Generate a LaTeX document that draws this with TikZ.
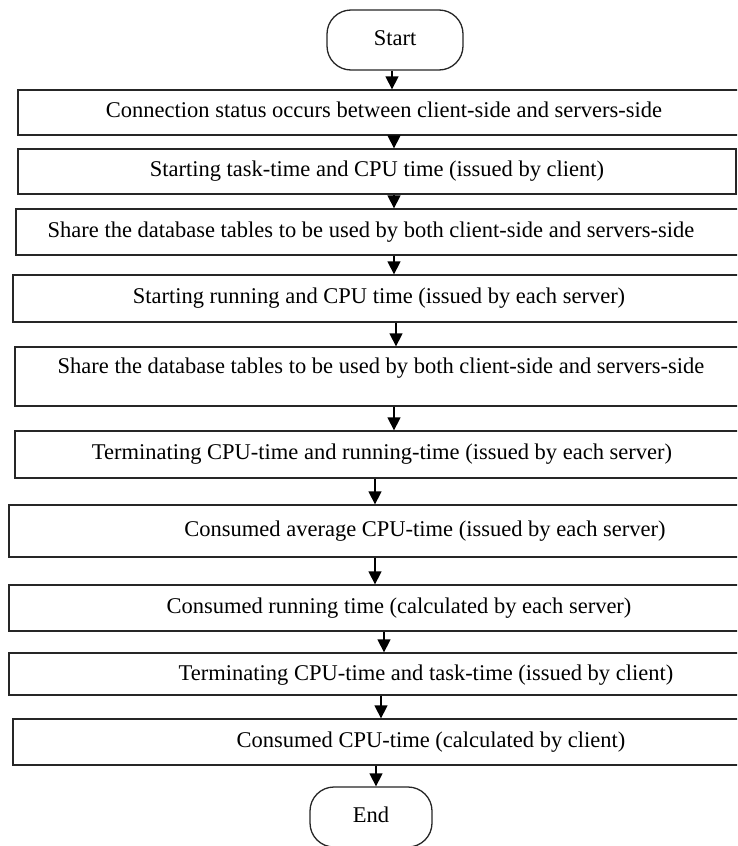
\documentclass[tikz,border=0pt]{standalone}
\usepackage{fontspec}
\setmainfont{Liberation Serif}
\usetikzlibrary{arrows.meta}
\begin{document}
\begin{tikzpicture}[x=1pt,y=-1pt,
  every node/.style={font=\fontsize{22.5pt}{27pt}\selectfont},
  boxnode/.style={draw=black!85,line width=1.3pt,rectangle,inner sep=0pt,text height=15pt,text depth=5pt},
  termnode/.style={draw=black!85,line width=1.3pt,rounded corners=24pt,inner sep=0pt,text height=15pt,text depth=5pt},
  arr/.style={draw=black,line width=1.3pt,-{Triangle[width=13pt,length=13pt]}}
]
\clip (0,0) rectangle (737,846);
\fill[white] (0,0) rectangle (737,846);
% terminals
\node[termnode,minimum width=136pt,minimum height=60pt] (start) at (395,40) {Start};
\node[termnode,minimum width=122pt,minimum height=60pt] (end) at (371,817) {End};
% boxes: they run on past the right edge of the picture
\node[boxnode,minimum width=732pt,minimum height=45pt] (b1) at (384,112.5) {Connection status occurs between client-side and servers-side};
\node[boxnode,minimum width=718pt,minimum height=45pt] (b2) at (377,171.5) {Starting task-time and CPU time (issued by client)};
\node[boxnode,minimum width=740pt,minimum height=46pt] (b3) at (386,232) {\hspace*{-30pt}Share the database tables to be used by both client-side and servers-side};
\node[boxnode,minimum width=732pt,minimum height=47pt] (b4) at (379,298.5) {Starting running and CPU time (issued by each server)};
\node[boxnode,minimum width=732pt,minimum height=59pt,text depth=22pt] (b5) at (381,376.5) {Share the database tables to be used by both client-side and servers-side};
\node[boxnode,minimum width=734pt,minimum height=47pt] (b6) at (382,454.5) {Terminating CPU-time and running-time (issued by each server)};
\node[boxnode,minimum width=832pt,minimum height=52pt] (b7) at (425,531) {Consumed average CPU-time (issued by each server)};
\node[boxnode,minimum width=780pt,minimum height=46pt] (b8) at (399,608) {Consumed running time (calculated by each server)};
\node[boxnode,minimum width=834pt,minimum height=42pt,text depth=2pt] (b9) at (426,674) {Terminating CPU-time and task-time (issued by client)};
\node[boxnode,minimum width=836pt,minimum height=46pt] (b10) at (431,742) {Consumed CPU-time (calculated by client)};
% arrow x positions
\coordinate (x0) at (392,0);
\coordinate (x1) at (394,0);
\coordinate (x2) at (394,0);
\coordinate (x3) at (394,0);
\coordinate (x4) at (396,0);
\coordinate (x5) at (394,0);
\coordinate (x6) at (375,0);
\coordinate (x7) at (375,0);
\coordinate (x8) at (384,0);
\coordinate (x9) at (381,0);
\coordinate (x10) at (376,0);
\draw[arr] (start.south -| x0) -- (b1.north -| x0);
\draw[arr] (b1.south -| x1) -- (b2.north -| x1);
\draw[arr] (b2.south -| x2) -- (b3.north -| x2);
\draw[arr] (b3.south -| x3) -- (b4.north -| x3);
\draw[arr] (b4.south -| x4) -- (b5.north -| x4);
\draw[arr] (b5.south -| x5) -- (b6.north -| x5);
\draw[arr] (b6.south -| x6) -- (b7.north -| x6);
\draw[arr] (b7.south -| x7) -- (b8.north -| x7);
\draw[arr] (b8.south -| x8) -- (b9.north -| x8);
\draw[arr] (b9.south -| x9) -- (b10.north -| x9);
\draw[arr] (b10.south -| x10) -- (end.north -| x10);
\end{tikzpicture}
\end{document}
